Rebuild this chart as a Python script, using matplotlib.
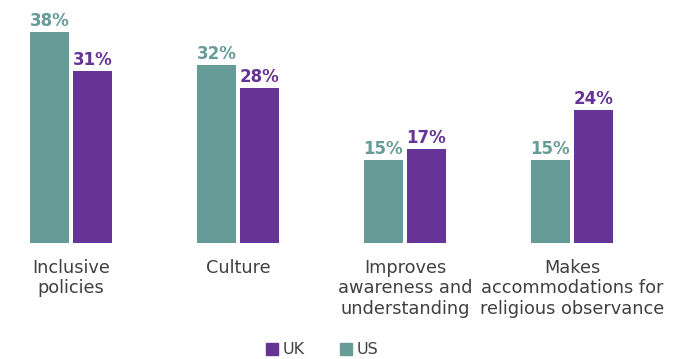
import numpy as np
import matplotlib
matplotlib.use("Agg")
import matplotlib.pyplot as plt
from matplotlib.patches import Patch

# Survey results by country
categories = [
    "Inclusive\npolicies",
    "Culture",
    "Improves\nawareness and\nunderstanding",
    "Makes\naccommodations for\nreligious observance",
]
us_values = [38, 32, 15, 15]
uk_values = [31, 28, 17, 24]

US_COLOR = "#679B98"
UK_COLOR = "#663495"
TEXT_COLOR = "#404040"

fig = plt.figure(figsize=(6.84, 3.59), dpi=100)
ax = fig.add_axes([0, 0.3231, 1, 0.6769])

x = np.arange(len(categories))
width = 0.234
offset = 0.129

us_bars = ax.bar(x - offset, us_values, width, color=US_COLOR)
uk_bars = ax.bar(x + offset, uk_values, width, color=UK_COLOR)

for bars, vals, color in [(us_bars, us_values, US_COLOR), (uk_bars, uk_values, UK_COLOR)]:
    for b, v in zip(bars, vals):
        ax.annotate(f"{v}%", (b.get_x() + b.get_width() / 2, v),
                    xytext=(0, 1.5), textcoords="offset points",
                    ha="center", va="bottom", fontsize=12,
                    fontweight="bold", color=color)

# category labels under each pair of bars
for xi, label in zip(x, categories):
    ax.text(xi, -2.9, label, ha="center", va="top", fontsize=12.8,
            color=TEXT_COLOR, linespacing=1.16)

ax.set_xlim(-0.425, 3.671)
ax.set_ylim(0, 43.8)
ax.axis("off")

handles = [Patch(color=UK_COLOR, label="UK"), Patch(color=US_COLOR, label="US")]
fig.legend(handles=handles, loc="center", bbox_to_anchor=(322 / 684, 1 - 350 / 359),
           ncol=2, frameon=False, fontsize=11.5, handlelength=0.75, handleheight=0.75,
           handletextpad=0.3, columnspacing=2.2, labelcolor=TEXT_COLOR)

fig.savefig("out.png", dpi=100)
